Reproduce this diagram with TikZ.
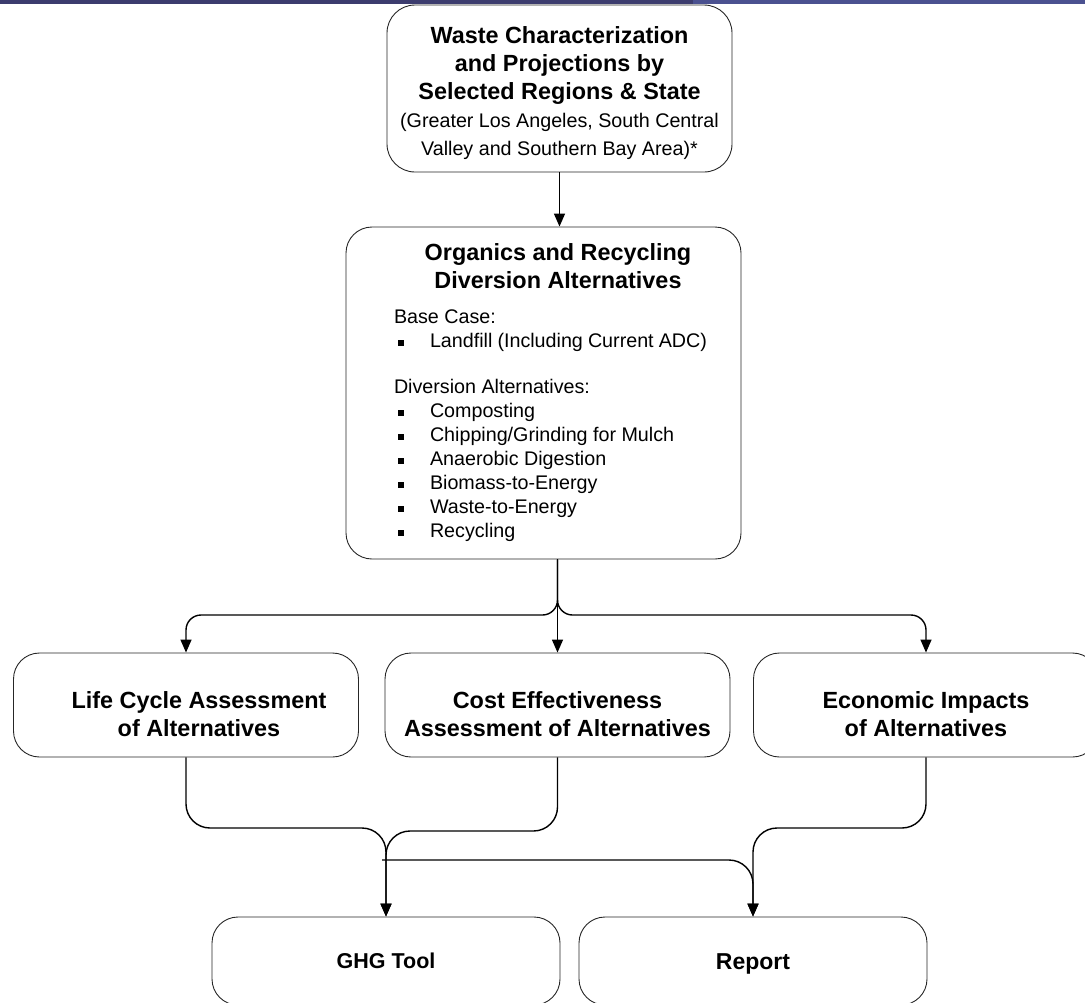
\documentclass[tikz,border=0pt]{standalone}
\usepackage{fontspec}
\setmainfont{Liberation Sans}
\usetikzlibrary{arrows.meta}

\definecolor{stripdark}{HTML}{3C3C6E}
\definecolor{stripblue}{HTML}{4B5190}

\newcommand{\headfont}{\fontsize{23.4}{28}\selectfont\bfseries}
\newcommand{\notefont}{\fontsize{19.7}{27}\selectfont\mdseries}
\newcommand{\listfont}{\fontsize{19.7}{24}\selectfont\mdseries}
\newcommand{\itembox}{\hspace*{4pt}\raisebox{2pt}{\rule{6pt}{6pt}}\hspace*{26pt}}
\newcommand{\dropline}{\rule{0pt}{35pt}}

\begin{document}
\begin{tikzpicture}[
    x=1pt, y=-1pt,
    stage/.style={rectangle, draw=black!85, line width=0.9pt, rounded corners=26pt, align=center, font=\headfont, inner sep=0pt},
    rowstage/.style={stage, minimum width=345pt, minimum height=104pt},
    endstage/.style={stage, minimum width=348pt, minimum height=88pt},
    dataflow/.style={-{Triangle[length=13pt,width=11pt]}, line width=1.4pt, rounded corners=24pt}
]
\useasboundingbox (0,0) rectangle (1085,1002);
\fill[stripdark] (0,0) rectangle (693,4);
\fill[stripblue] (693,0) rectangle (1085,4);

\node[stage, minimum width=345pt, minimum height=167pt, rounded corners=28pt] (waste) at (559.5,88.5) {\rule{0pt}{27pt}Waste Characterization\\and Projections by\\Selected Regions \& State\\\notefont (Greater Los Angeles, South Central\\\notefont Valley and Southern Bay Area)*};

\node[stage, minimum width=395pt, minimum height=332pt] (alts) at (543.5,393) {\hspace*{29pt}Organics and Recycling\\\hspace*{29pt}Diversion Alternatives\\[7pt]\hspace*{14pt}\parbox[t]{313pt}{\listfont\raggedright
    Base Case:\\
    \itembox Landfill (Including Current ADC)\\[22pt]
    Diversion Alternatives:\\
    \itembox Composting\\
    \itembox Chipping/Grinding for Mulch\\
    \itembox Anaerobic Digestion\\
    \itembox Biomass-to-Energy\\
    \itembox Waste-to-Energy\\
    \itembox Recycling}};

\node[rowstage] (lca) at (186,705) {\hspace*{26pt}\dropline Life Cycle Assessment\\\hspace*{26pt}of Alternatives};
\node[rowstage] (cea) at (557.5,705) {\dropline Cost Effectiveness\\Assessment of Alternatives};
\node[rowstage] (eia) at (926,705) {\dropline Economic Impacts\\of Alternatives};

\node[endstage, font=\fontsize{21.5}{26}\selectfont\bfseries] (ghg) at (386,961) {GHG Tool};
\node[endstage, font=\fontsize{23}{28}\selectfont\bfseries] (report) at (753,961) {\rule{0pt}{22pt}Report};

\draw[dataflow] (waste.south) -- (waste.south |- alts.north);

\draw[dataflow, rounded corners=15pt] (alts.south -| cea.north) |- (lca.north |- 0,615) -- (lca.north);
\draw[dataflow] (alts.south -| cea.north) -- (cea.north);
\draw[dataflow, rounded corners=15pt] (alts.south -| cea.north) |- (eia.north |- 0,615) -- (eia.north);

\draw[dataflow] (lca.south) |- (ghg.north |- 0,828) -- (ghg.north);
\draw[dataflow] (cea.south) |- (ghg.north |- 0,831) -- (ghg.north);
\coordinate (tee) at (382,860);
\draw[dataflow] (tee) -| (report.north);
\draw[dataflow] (eia.south) |- (report.north |- 0,828) -- (report.north);

\end{tikzpicture}
\end{document}
